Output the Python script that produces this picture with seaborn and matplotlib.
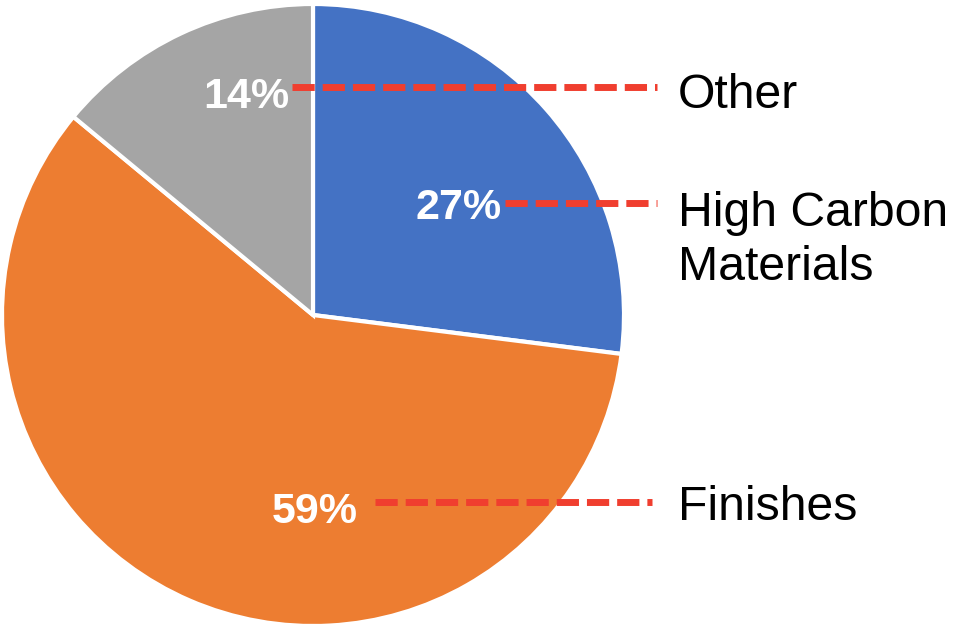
import matplotlib
matplotlib.use("Agg")
import matplotlib.pyplot as plt
import seaborn as sns

sns.set_theme(style="white")
plt.rcParams['font.family'] = ['Liberation Sans', 'DejaVu Sans']

categories = ["High Carbon\nMaterials", "Finishes", "Other"]
values = [27, 59, 14]
pct_labels = ["27%", "59%", "14%"]
colors = ["#4472C4", "#ED7D31", "#A5A5A5"]

fig = plt.figure(figsize=(9.59, 6.32), dpi=100)
ax = fig.add_axes([0, 0, 1, 1])

cx, cy, r = 313, 315, 311
# y axis is inverted (pixel coordinates), so startangle=-90 is the top
# and counter-clockwise in data space appears clockwise on screen
ax.pie(values, colors=colors, startangle=-90, counterclock=True,
       center=(cx, cy), radius=r,
       wedgeprops=dict(edgecolor="white", linewidth=3))

ax.set_xlim(0, 959)
ax.set_ylim(632, 0)
ax.set_aspect("equal")
ax.axis("off")

# percentage labels (x_right, baseline) and leader lines
pct_pos = [(502, 219), (358, 523), (289, 108)]
line_spec = [(505, 657, 203), (375, 652, 502), (292, 657, 87)]
name_pos = [(678, 226), (678, 520), (678, 108)]

red = "#F03E2F"
for lab, (x, y) in zip(pct_labels, pct_pos):
    ax.text(x, y, lab, color="white", fontsize=31, fontweight="bold",
            ha="right", va="baseline")
for (x0, x1, y) in line_spec:
    ax.plot([x0, x1], [y, y], color=red, lw=5,
            linestyle=(0, (3.2, 1.15)), solid_capstyle="butt",
            dash_capstyle="butt")
for name, (x, y) in zip(categories, name_pos):
    ax.text(x, y, name.split("\n")[0], color="black", fontsize=34.7,
            ha="left", va="baseline")
    if "\n" in name:
        ax.text(x, y + 54, name.split("\n")[1], color="black", fontsize=34.7,
                ha="left", va="baseline")

fig.savefig("out.png", dpi=100)
